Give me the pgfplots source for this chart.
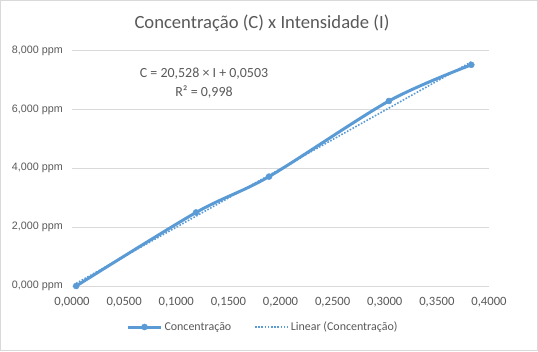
\documentclass[border=0pt]{standalone}
\usepackage{pgfplots}
\pgfplotsset{compat=1.18}
\usepackage{fontspec}
\setmainfont{Carlito}
\newfontfamily\arialfont{Liberation Sans}
\definecolor{exblue}{RGB}{91,155,213}
\definecolor{txtgray}{RGB}{89,89,89}
\definecolor{gridgray}{RGB}{217,217,217}
\begin{document}
\begin{tikzpicture}[x=1bp,y=1bp]
\path[use as bounding box] (0,0) rectangle (538,351);
\draw[gridgray, line width=0.75bp] (0.5,0.5) rectangle (537.5,350.5);
\begin{axis}[
  at={(72bp,65bp)}, anchor=south west,
  scale only axis, width=417bp, height=235.3bp,
  xmin=0, xmax=0.4, ymin=0, ymax=8,
  clip=false,
  xtick={0,0.05,0.1,0.15,0.2,0.25,0.3,0.35,0.4},
  xticklabels={{0,0000},{0,0500},{0,1000},{0,1500},{0,2000},{0,2500},{0,3000},{0,3500},{0,4000}},
  ytick={0,2,4,6,8},
  yticklabels={{0,000 ppm},{2,000 ppm},{4,000 ppm},{6,000 ppm},{8,000 ppm}},
  axis line style={draw=none},
  major tick length=0,
  ymajorgrids,
  grid style={gridgray, line width=0.75bp},
  xticklabel style={font=\fontsize{12.7}{15}\selectfont, text=txtgray, anchor=center, yshift=-15.7bp},
  yticklabel style={font=\arialfont\fontsize{10.8}{13}\selectfont, text=txtgray, anchor=east, inner sep=0pt, xshift=-9bp},
  legend columns=2,
  legend cell align=left,
  legend style={draw=none, fill=none, at={(0.5,0)}, anchor=center, xshift=-17.5bp, yshift=-41bp,
    font=\fontsize{12}{14}\selectfont, text=txtgray,
    /tikz/every even column/.append style={column sep=21bp}},
  legend image code/.code={\draw[mark repeat=2,mark phase=2,#1] plot coordinates {(0bp,0bp)(16.5bp,0bp)(33bp,0bp)};},
]
\addplot[exblue, line width=3bp, smooth, tension=0.5, mark=*, mark size=3bp, mark options={solid, fill=exblue, draw=exblue, line width=0.5bp}]
  coordinates {(0.004,0) (0.119,2.50) (0.189,3.72) (0.304,6.29) (0.383,7.52)};
\addlegendentry{Concentração}
\addplot[exblue, line width=1.6bp, dash pattern=on 1.6bp off 1.6bp]
  coordinates {(0.004,0.09) (0.383,7.62)};
\addlegendentry{Linear (Concentração)}
\end{axis}
\node[text=txtgray, font=\fontsize{18.7}{22}\selectfont] at (262,328) {Concentração (C) x Intensidade (I)};
\node[text=txtgray, font=\fontsize{14}{16}\selectfont] at (204,277.7) {C = 20,528 × I + 0,0503};
\node[text=txtgray, font=\fontsize{14}{16}\selectfont] at (204,259.3) {R² = 0,998};
\end{tikzpicture}
\end{document}
